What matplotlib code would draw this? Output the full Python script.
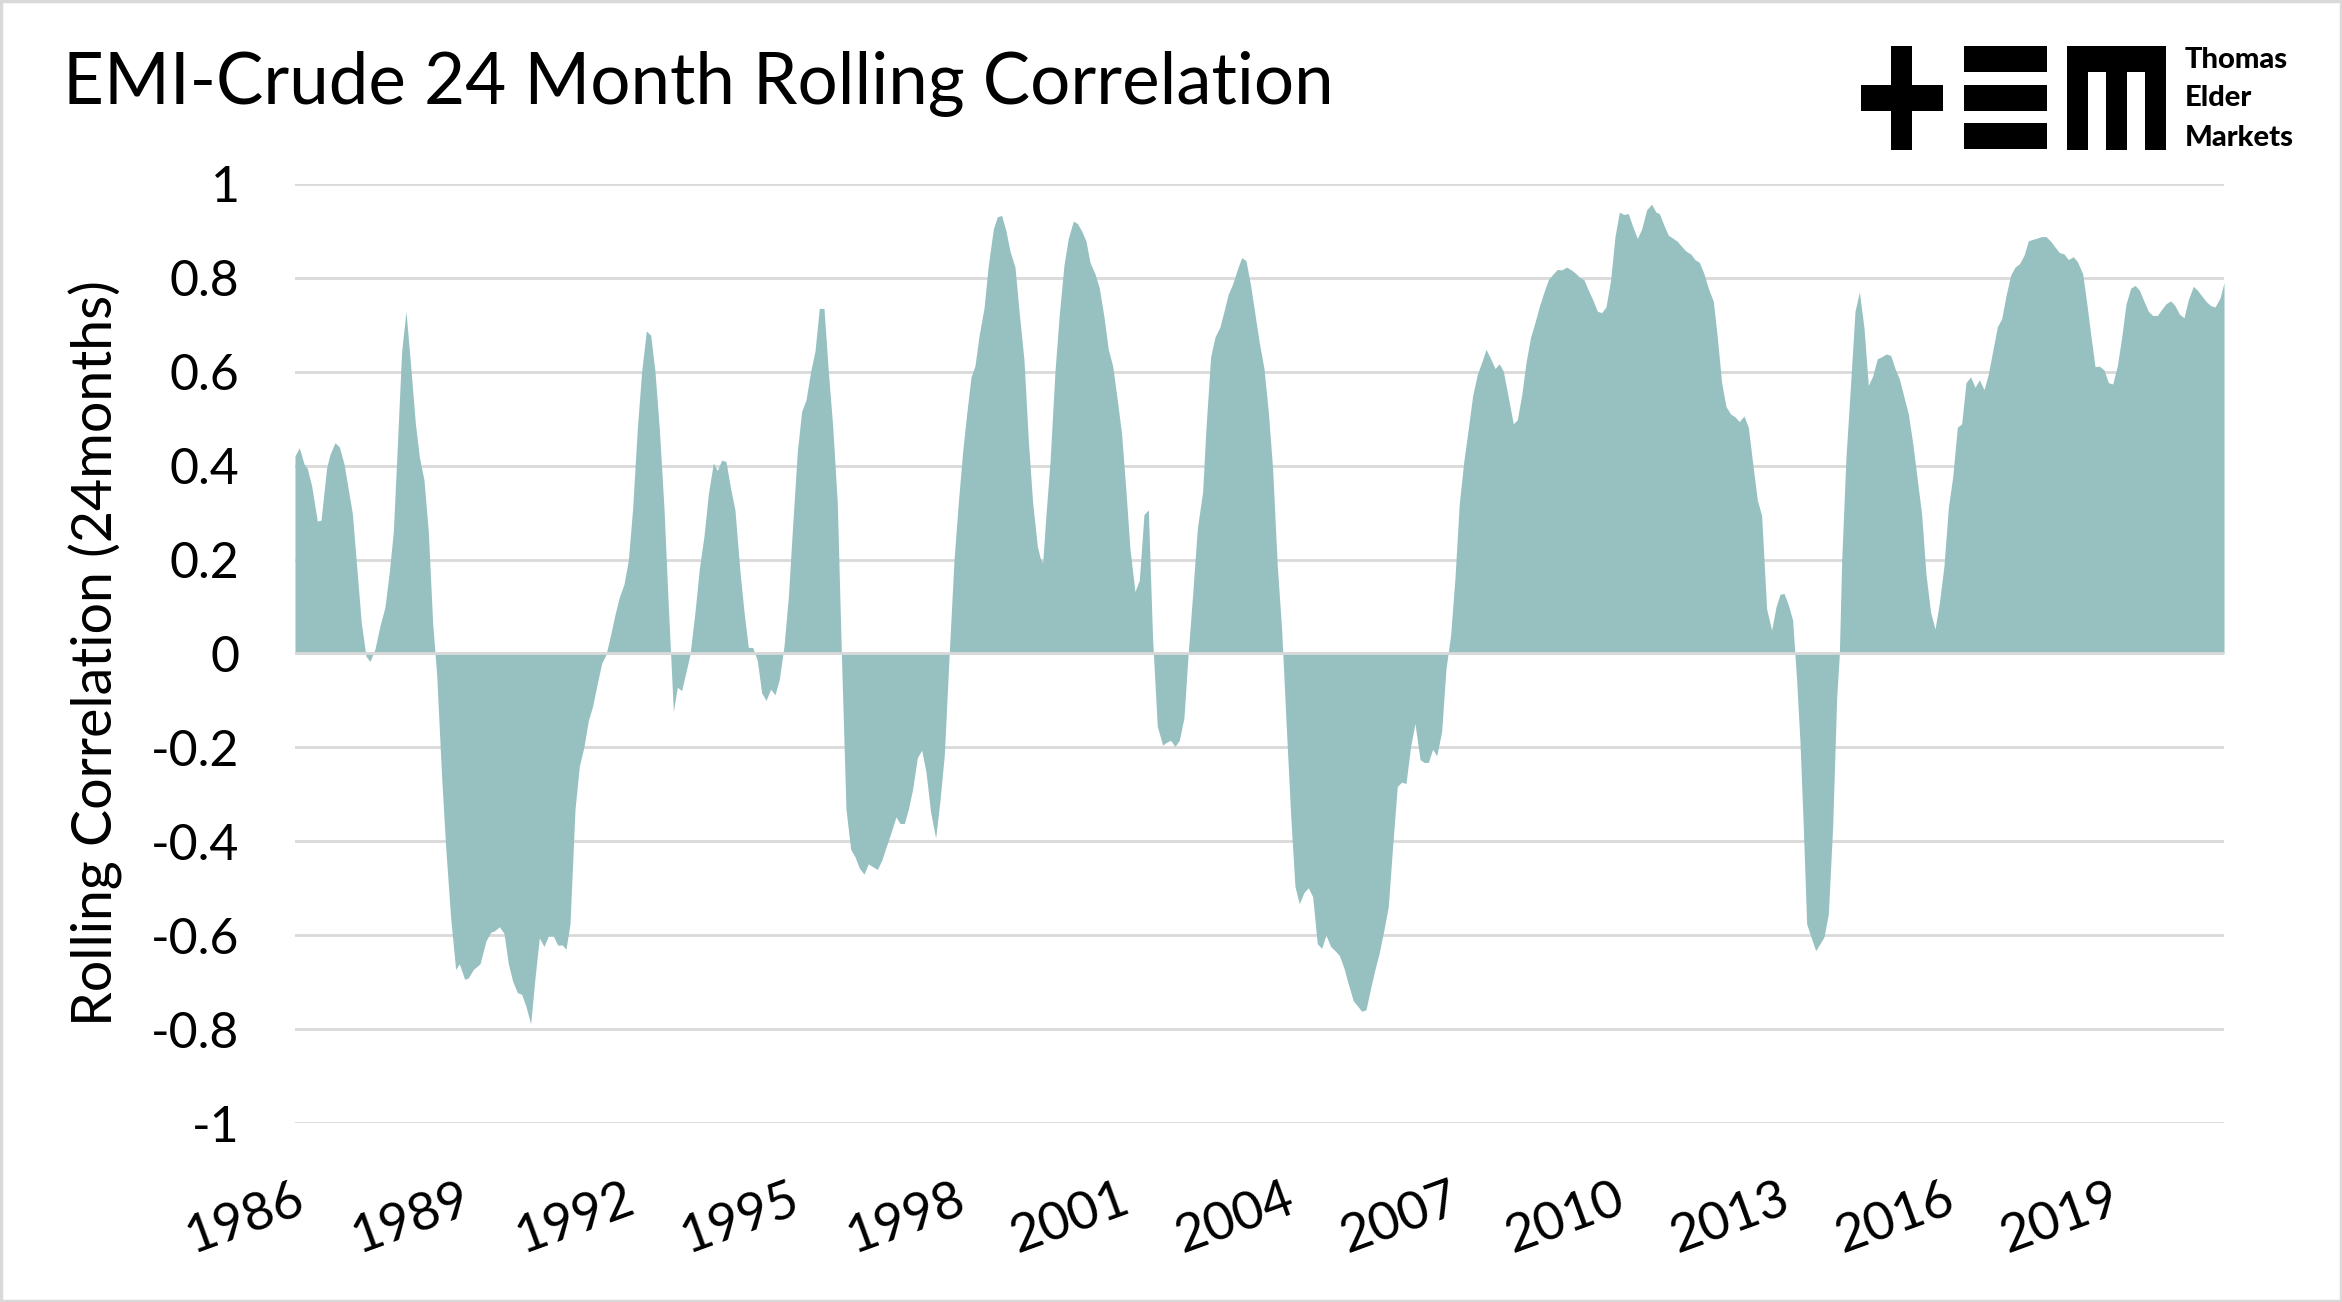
import numpy as np
import matplotlib.pyplot as plt
from matplotlib.patches import Rectangle

# rolling 24m correlation (decimal year, value)
years = [
    1986.000, 1986.079, 1986.164, 1986.224, 1986.303, 1986.406, 1986.473, 1986.576, 1986.636, 1986.727,
    1986.806, 1986.891, 1987.042, 1987.206, 1987.291, 1987.364, 1987.455, 1987.545, 1987.636, 1987.715,
    1987.788, 1987.861, 1987.939, 1988.018, 1988.103, 1988.188, 1988.261, 1988.345, 1988.424, 1988.503,
    1988.576, 1988.667, 1988.739, 1988.830, 1988.921, 1988.988, 1989.085, 1989.152, 1989.242, 1989.364,
    1989.473, 1989.558, 1989.636, 1989.715, 1989.800, 1989.879, 1989.958, 1990.042, 1990.121, 1990.200,
    1990.285, 1990.364, 1990.442, 1990.527, 1990.606, 1990.697, 1990.776, 1990.861, 1990.927, 1991.000,
    1991.091, 1991.170, 1991.255, 1991.333, 1991.412, 1991.485, 1991.576, 1991.655, 1991.727, 1991.818,
    1991.897, 1991.982, 1992.061, 1992.139, 1992.224, 1992.303, 1992.388, 1992.467, 1992.545, 1992.624,
    1992.709, 1992.788, 1992.879, 1992.951, 1993.030, 1993.109, 1993.182, 1993.273, 1993.351, 1993.436,
    1993.515, 1993.606, 1993.679, 1993.757, 1993.836, 1993.921, 1993.999, 1994.091, 1994.164, 1994.242,
    1994.321, 1994.406, 1994.485, 1994.564, 1994.648, 1994.727, 1994.806, 1994.891, 1994.970, 1995.048,
    1995.133, 1995.212, 1995.291, 1995.376, 1995.454, 1995.533, 1995.618, 1995.697, 1995.776, 1995.860,
    1995.939, 1996.018, 1996.103, 1996.182, 1996.260, 1996.345, 1996.424, 1996.503, 1996.588, 1996.667,
    1996.745, 1996.830, 1996.927, 1997.000, 1997.079, 1997.151, 1997.230, 1997.315, 1997.394, 1997.472,
    1997.557, 1997.648, 1997.727, 1997.806, 1997.897, 1997.982, 1998.060, 1998.139, 1998.212, 1998.291,
    1998.363, 1998.442, 1998.527, 1998.606, 1998.697, 1998.769, 1998.848, 1998.927, 1999.000, 1999.091,
    1999.170, 1999.254, 1999.333, 1999.412, 1999.497, 1999.545, 1999.594, 1999.654, 1999.727, 1999.818,
    1999.897, 1999.981, 2000.060, 2000.151, 2000.224, 2000.303, 2000.381, 2000.454, 2000.545, 2000.624,
    2000.709, 2000.787, 2000.866, 2000.951, 2001.030, 2001.109, 2001.181, 2001.272, 2001.351, 2001.436,
    2001.515, 2001.594, 2001.678, 2001.775, 2001.848, 2001.921, 2002.000, 2002.078, 2002.163, 2002.242,
    2002.321, 2002.406, 2002.503, 2002.563, 2002.648, 2002.727, 2002.818, 2002.891, 2002.969, 2003.048,
    2003.133, 2003.212, 2003.290, 2003.375, 2003.454, 2003.533, 2003.618, 2003.696, 2003.775, 2003.860,
    2003.939, 2004.018, 2004.103, 2004.181, 2004.260, 2004.345, 2004.424, 2004.503, 2004.587, 2004.666,
    2004.745, 2004.830, 2004.909, 2004.987, 2005.072, 2005.151, 2005.242, 2005.315, 2005.393, 2005.472,
    2005.557, 2005.636, 2005.715, 2005.800, 2005.878, 2005.957, 2006.042, 2006.121, 2006.200, 2006.284,
    2006.363, 2006.455, 2006.527, 2006.606, 2006.685, 2006.758, 2006.848, 2006.927, 2007.012, 2007.091,
    2007.170, 2007.254, 2007.333, 2007.412, 2007.497, 2007.576, 2007.654, 2007.739, 2007.818, 2007.897,
    2007.970, 2008.060, 2008.151, 2008.224, 2008.303, 2008.382, 2008.466, 2008.545, 2008.624, 2008.709,
    2008.788, 2008.879, 2008.951, 2009.030, 2009.121, 2009.194, 2009.273, 2009.351, 2009.436, 2009.515,
    2009.594, 2009.679, 2009.757, 2009.836, 2009.921, 2010.000, 2010.079, 2010.164, 2010.242, 2010.321,
    2010.406, 2010.485, 2010.575, 2010.666, 2010.745, 2010.806, 2010.891, 2010.969, 2011.048, 2011.133,
    2011.212, 2011.291, 2011.376, 2011.454, 2011.533, 2011.618, 2011.697, 2011.788, 2011.860, 2011.939,
    2012.018, 2012.103, 2012.182, 2012.260, 2012.345, 2012.424, 2012.503, 2012.588, 2012.666, 2012.757,
    2012.848, 2012.927, 2013.000, 2013.073, 2013.151, 2013.230, 2013.303, 2013.364, 2013.425, 2013.485,
    2013.564, 2013.649, 2013.728, 2013.800, 2013.879, 2013.958, 2014.031, 2014.079, 2014.122, 2014.200,
    2014.285, 2014.364, 2014.443, 2014.528, 2014.606, 2014.685, 2014.770, 2014.849, 2014.928, 2015.012,
    2015.091, 2015.170, 2015.255, 2015.334, 2015.412, 2015.497, 2015.576, 2015.655, 2015.740, 2015.819,
    2015.897, 2015.982, 2016.061, 2016.140, 2016.225, 2016.303, 2016.382, 2016.467, 2016.546, 2016.625,
    2016.710, 2016.788, 2016.867, 2016.952, 2017.031, 2017.109, 2017.194, 2017.273, 2017.352, 2017.437,
    2017.516, 2017.594, 2017.679, 2017.758, 2017.837, 2017.922, 2018.000, 2018.079, 2018.164, 2018.243,
    2018.334, 2018.406, 2018.503, 2018.576, 2018.649, 2018.728, 2018.806, 2018.891, 2018.970, 2019.049,
    2019.134, 2019.213, 2019.291, 2019.376, 2019.455, 2019.534, 2019.619, 2019.697, 2019.776, 2019.861,
    2019.940, 2020.019, 2020.103, 2020.182, 2020.261, 2020.346, 2020.425, 2020.516, 2020.588, 2020.667,
    2020.746, 2020.830, 2020.910, 2021.000, 2021.073,
]
corr = [
    0.421, 0.438, 0.404, 0.394, 0.357, 0.282, 0.284, 0.396, 0.424, 0.449,
    0.440, 0.404, 0.299, 0.065, -0.006, -0.017, 0.010, 0.059, 0.099, 0.174,
    0.260, 0.443, 0.644, 0.729, 0.613, 0.491, 0.418, 0.370, 0.260, 0.065,
    -0.045, -0.265, -0.411, -0.563, -0.673, -0.661, -0.694, -0.691, -0.673, -0.661,
    -0.612, -0.594, -0.590, -0.582, -0.596, -0.661, -0.698, -0.722, -0.726, -0.752,
    -0.789, -0.691, -0.606, -0.624, -0.602, -0.602, -0.621, -0.621, -0.630, -0.576,
    -0.332, -0.240, -0.198, -0.143, -0.112, -0.070, -0.021, -0.002, 0.034, 0.083,
    0.120, 0.148, 0.199, 0.309, 0.479, 0.601, 0.687, 0.678, 0.601, 0.479,
    0.309, 0.101, -0.124, -0.072, -0.079, -0.039, -0.002, 0.089, 0.180, 0.250,
    0.339, 0.406, 0.390, 0.412, 0.409, 0.351, 0.306, 0.174, 0.089, 0.013,
    0.013, -0.015, -0.084, -0.100, -0.076, -0.088, -0.055, 0.016, 0.120, 0.272,
    0.430, 0.516, 0.540, 0.601, 0.644, 0.735, 0.735, 0.601, 0.485, 0.321,
    -0.021, -0.332, -0.417, -0.433, -0.457, -0.470, -0.448, -0.454, -0.460, -0.441,
    -0.413, -0.384, -0.348, -0.362, -0.362, -0.332, -0.289, -0.222, -0.206, -0.252,
    -0.338, -0.393, -0.313, -0.216, 0.004, 0.199, 0.321, 0.430, 0.510, 0.589,
    0.613, 0.680, 0.735, 0.827, 0.904, 0.930, 0.933, 0.900, 0.857, 0.823,
    0.723, 0.626, 0.455, 0.321, 0.229, 0.205, 0.193, 0.296, 0.406, 0.601,
    0.723, 0.827, 0.884, 0.921, 0.916, 0.900, 0.879, 0.833, 0.809, 0.778,
    0.717, 0.648, 0.613, 0.540, 0.467, 0.345, 0.223, 0.132, 0.156, 0.296,
    0.306, 0.028, -0.155, -0.195, -0.189, -0.185, -0.198, -0.185, -0.137, 0.004,
    0.126, 0.266, 0.345, 0.479, 0.632, 0.674, 0.696, 0.729, 0.766, 0.787,
    0.818, 0.843, 0.837, 0.784, 0.723, 0.662, 0.607, 0.516, 0.394, 0.187,
    0.052, -0.143, -0.344, -0.496, -0.533, -0.509, -0.499, -0.518, -0.618, -0.628,
    -0.600, -0.624, -0.633, -0.643, -0.670, -0.704, -0.740, -0.750, -0.762, -0.759,
    -0.713, -0.673, -0.637, -0.588, -0.539, -0.411, -0.283, -0.274, -0.277, -0.198,
    -0.149, -0.226, -0.232, -0.232, -0.204, -0.218, -0.167, -0.033, 0.040, 0.162,
    0.321, 0.412, 0.479, 0.549, 0.595, 0.620, 0.648, 0.628, 0.607, 0.617,
    0.601, 0.546, 0.489, 0.498, 0.550, 0.620, 0.674, 0.705, 0.739, 0.770,
    0.796, 0.809, 0.818, 0.817, 0.823, 0.818, 0.811, 0.802, 0.796, 0.774,
    0.754, 0.729, 0.726, 0.738, 0.796, 0.888, 0.940, 0.935, 0.937, 0.910,
    0.884, 0.904, 0.945, 0.957, 0.940, 0.937, 0.912, 0.891, 0.885, 0.878,
    0.867, 0.857, 0.851, 0.839, 0.833, 0.809, 0.778, 0.750, 0.674, 0.577,
    0.526, 0.510, 0.504, 0.494, 0.506, 0.482, 0.406, 0.327, 0.294, 0.095,
    0.050, 0.099, 0.126, 0.128, 0.104, 0.071, -0.057, -0.190, -0.374, -0.576,
    -0.604, -0.633, -0.618, -0.604, -0.555, -0.368, -0.094, -0.002, 0.199, 0.418,
    0.577, 0.729, 0.770, 0.693, 0.571, 0.591, 0.628, 0.632, 0.638, 0.635,
    0.607, 0.585, 0.546, 0.510, 0.449, 0.370, 0.296, 0.168, 0.087, 0.052,
    0.107, 0.187, 0.311, 0.376, 0.482, 0.489, 0.577, 0.589, 0.567, 0.583,
    0.562, 0.595, 0.644, 0.696, 0.713, 0.762, 0.806, 0.823, 0.830, 0.848,
    0.879, 0.882, 0.885, 0.888, 0.888, 0.878, 0.866, 0.854, 0.851, 0.839,
    0.845, 0.835, 0.809, 0.748, 0.680, 0.611, 0.612, 0.604, 0.577, 0.574,
    0.613, 0.674, 0.744, 0.778, 0.784, 0.774, 0.750, 0.729, 0.720, 0.720,
    0.733, 0.745, 0.751, 0.741, 0.723, 0.715, 0.754, 0.782, 0.774, 0.762,
    0.750, 0.741, 0.738, 0.757, 0.790,
]

year_ticks = list(range(1986, 2020, 3))
y_ticks = [1, 0.8, 0.6, 0.4, 0.2, 0, -0.2, -0.4, -0.6, -0.8, -1]
y_tick_labels = ['1', '0.8', '0.6', '0.4', '0.2', '0', '-0.2', '-0.4', '-0.6', '-0.8', '-1']

W, H = 2342, 1302
FONT = 'Lato'
fill_col = '#97c1c0'
grid_col = '#d9d9d9'

fig = plt.figure(figsize=(W / 100, H / 100), dpi=100)
fig.patch.set_facecolor('white')

ax = fig.add_axes([295 / W, 1 - 1123 / H, (2224 - 295) / W, (1123 - 184) / H])
ax.fill_between(years, corr, 0, color=fill_col, linewidth=0, zorder=2)
ax.axhline(0, color=grid_col, linewidth=2.0, zorder=3)
ax.set_xlim(1986, 2021.073)
ax.set_ylim(-1, 1)
ax.set_yticks(y_ticks)
ax.set_yticklabels(y_tick_labels, fontsize=36, fontfamily=FONT)
ax.set_xticks(year_ticks)
ax.set_xticklabels([str(y) for y in year_ticks], fontsize=38, fontfamily=FONT,
                   rotation=20, ha='right', va='top', rotation_mode='anchor')
ax.tick_params(axis='y', length=0, pad=40)
ax.tick_params(axis='x', length=0, pad=38)
ax.grid(axis='y', color=grid_col, linewidth=2.0, zorder=0)
ax.set_axisbelow(True)
for s in ax.spines.values():
    s.set_visible(False)

fig.text(96 / W, 1 - 653.5 / H, 'Rolling Correlation (24months)', rotation=90,
         ha='center', va='center', fontsize=40, fontfamily=FONT)
fig.text(63 / W, 1 - 104 / H, 'EMI-Crude 24 Month Rolling Correlation',
         ha='left', va='baseline', fontsize=51, fontfamily=FONT)

# logo + border drawn in pixel space
ov = fig.add_axes([0, 0, 1, 1], zorder=-1)
ov.set_xlim(0, W)
ov.set_ylim(H, 0)
ov.axis('off')
ov.patch.set_alpha(0)
logo = [(1861, 85, 82, 26), (1891, 46, 21, 104),
        (1964, 46, 83, 26), (1964, 85, 83, 26), (1964, 123, 83, 26),
        (2067, 46, 98, 26), (2067, 46, 21, 104), (2106, 46, 21, 104), (2145, 46, 21, 104)]
for x, y, w, h in logo:
    ov.add_patch(Rectangle((x, y), w, h, color='black', linewidth=0))
for txt, yb in [('Thomas', 68), ('Elder', 106), ('Markets', 146)]:
    ov.text(2185, yb, txt, ha='left', va='baseline', fontsize=21,
            fontweight='black', fontfamily=FONT)
ov.add_patch(Rectangle((1, 1), W - 2, H - 2, fill=False, edgecolor=grid_col, linewidth=2.5))

fig.savefig('out.png', dpi=100)
